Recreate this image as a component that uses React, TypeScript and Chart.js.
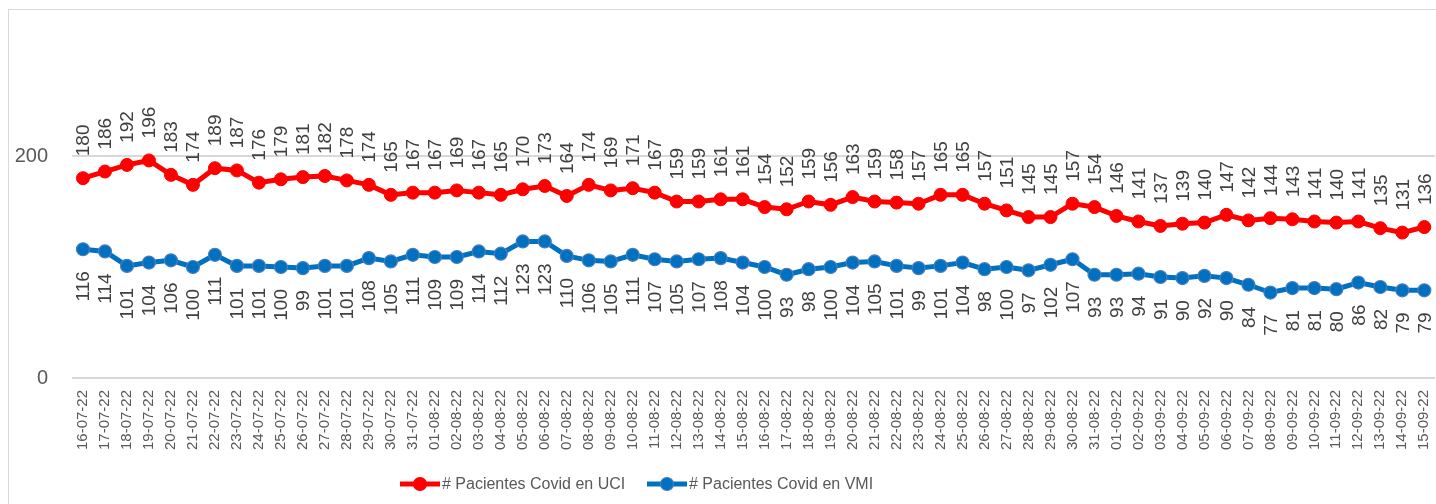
import { useEffect, useRef } from 'react';
import { Chart, registerables } from 'chart.js';

Chart.register(...registerables);

const dates = [
  '16-07-22', '17-07-22', '18-07-22', '19-07-22', '20-07-22', '21-07-22', '22-07-22', '23-07-22',
  '24-07-22', '25-07-22', '26-07-22', '27-07-22', '28-07-22', '29-07-22', '30-07-22', '31-07-22',
  '01-08-22', '02-08-22', '03-08-22', '04-08-22', '05-08-22', '06-08-22', '07-08-22', '08-08-22',
  '09-08-22', '10-08-22', '11-08-22', '12-08-22', '13-08-22', '14-08-22', '15-08-22', '16-08-22',
  '17-08-22', '18-08-22', '19-08-22', '20-08-22', '21-08-22', '22-08-22', '23-08-22', '24-08-22',
  '25-08-22', '26-08-22', '27-08-22', '28-08-22', '29-08-22', '30-08-22', '31-08-22', '01-09-22',
  '02-09-22', '03-09-22', '04-09-22', '05-09-22', '06-09-22', '07-09-22', '08-09-22', '09-09-22',
  '10-09-22', '11-09-22', '12-09-22', '13-09-22', '14-09-22', '15-09-22',
];

const uciValues = [
  180, 186, 192, 196, 183, 174, 189, 187, 176, 179, 181, 182, 178, 174, 165, 167,
  167, 169, 167, 165, 170, 173, 164, 174, 169, 171, 167, 159, 159, 161, 161, 154,
  152, 159, 156, 163, 159, 158, 157, 165, 165, 157, 151, 145, 145, 157, 154, 146,
  141, 137, 139, 140, 147, 142, 144, 143, 141, 140, 141, 135, 131, 136,
];

const vmiValues = [
  116, 114, 101, 104, 106, 100, 111, 101, 101, 100, 99, 101, 101, 108, 105, 111,
  109, 109, 114, 112, 123, 123, 110, 106, 105, 111, 107, 105, 107, 108, 104, 100,
  93, 98, 100, 104, 105, 101, 99, 101, 104, 98, 100, 97, 102, 107, 93, 93,
  94, 91, 90, 92, 90, 84, 77, 81, 81, 80, 86, 82, 79, 79,
];

const yTicks = [0, 200];
const seriesNames = ['# Pacientes Covid en UCI', '# Pacientes Covid en VMI'];
const seriesColors = ['#FF0000', '#0070C0'];
const seriesBorders = ['#FF0000', '#4A7EBB'];

const FONT = '"Liberation Sans", Arial, sans-serif';

const dataLabelPlugin = {
  id: 'dataLabelsRot',
  afterDatasetsDraw(chart: any) {
    const ctx = chart.ctx;
    chart.data.datasets.forEach((ds: any, i: number) => {
      const meta = chart.getDatasetMeta(i);
      meta.data.forEach((pt: any, j: number) => {
        ctx.save();
        ctx.translate(pt.x, pt.y);
        ctx.rotate(-Math.PI / 2);
        ctx.font = `19px ${FONT}`;
        ctx.fillStyle = '#404040';
        ctx.textBaseline = 'middle';
        if (i === 0) {
          ctx.textAlign = 'left';
          ctx.fillText(String(ds.data[j]), 22, 1);
        } else {
          ctx.textAlign = 'right';
          ctx.fillText(String(ds.data[j]), -22, 1);
        }
        ctx.restore();
      });
    });
  },
};

const legendPlugin = {
  id: 'customLegend',
  afterDraw(chart: any) {
    const ctx = chart.ctx;
    const y = 474;
    const starts = [391, 638];
    seriesNames.forEach((name, i) => {
      const x0 = starts[i];
      ctx.save();
      ctx.strokeStyle = seriesColors[i];
      ctx.lineWidth = 5;
      ctx.lineCap = 'butt';
      ctx.beginPath();
      ctx.moveTo(x0, y);
      ctx.lineTo(x0 + 40, y);
      ctx.stroke();
      ctx.beginPath();
      ctx.arc(x0 + 20, y, 6.5, 0, Math.PI * 2);
      ctx.fillStyle = seriesColors[i];
      ctx.fill();
      ctx.lineWidth = 1.2;
      ctx.strokeStyle = seriesBorders[i];
      ctx.stroke();
      ctx.font = `16px ${FONT}`;
      ctx.fillStyle = '#595959';
      ctx.textAlign = 'left';
      ctx.textBaseline = 'middle';
      ctx.fillText(name, x0 + 42, y + 1);
      ctx.restore();
    });
  },
};

export default function App() {
  const ref = useRef<HTMLCanvasElement | null>(null);

  useEffect(() => {
    if (!ref.current) return;
    const chart = new Chart(ref.current, {
      type: 'line',
      data: {
        labels: dates,
        datasets: [
          {
            label: seriesNames[0],
            data: uciValues,
            borderColor: seriesColors[0],
            backgroundColor: seriesColors[0],
            pointBackgroundColor: seriesColors[0],
            pointBorderColor: seriesBorders[0],
            pointBorderWidth: 1,
            borderWidth: 5,
            pointRadius: 6.5,
            tension: 0,
          },
          {
            label: seriesNames[1],
            data: vmiValues,
            borderColor: seriesColors[1],
            backgroundColor: seriesColors[1],
            pointBackgroundColor: seriesColors[1],
            pointBorderColor: seriesBorders[1],
            pointBorderWidth: 1.2,
            borderWidth: 5,
            pointRadius: 6.5,
            tension: 0,
          },
        ],
      },
      options: {
        animation: false,
        responsive: false,
        devicePixelRatio: 1,
        layout: { padding: { top: 35, right: 3, bottom: 0, left: 0 } },
        plugins: {
          legend: { display: false },
          tooltip: { enabled: false },
        },
        scales: {
          x: {
            offset: true,
            grid: { display: false, drawTicks: false },
            border: { display: false },
            ticks: {
              autoSkip: false,
              minRotation: 90,
              maxRotation: 90,
              padding: 12,
              color: '#595959',
              font: { size: 15, family: FONT },
            },
            afterFit(scale: any) {
              scale.height = 126;
              scale.paddingLeft = 0;
              scale.paddingRight = 0;
            },
          },
          y: {
            min: 0,
            max: 300,
            grid: { color: '#D9D9D9', lineWidth: 2, drawTicks: false },
            border: { display: false },
            ticks: {
              padding: 24,
              color: '#595959',
              font: { size: 20, family: FONT },
            },
            afterBuildTicks(scale: any) {
              scale.ticks = yTicks.map((v) => ({ value: v }));
            },
            afterFit(scale: any) {
              scale.width = 63;
              scale.paddingTop = 0;
              scale.paddingBottom = 0;
            },
          },
        },
      },
      plugins: [dataLabelPlugin, legendPlugin],
    });
    return () => chart.destroy();
  }, []);

  return (
    <div
      style={{
        position: 'fixed',
        left: 8,
        top: 9,
        width: 1444,
        height: 496,
        border: '1px solid #D9D9D9',
        background: '#fff',
      }}
    >
      <canvas ref={ref} width={1434} height={494} style={{ display: 'block' }} />
    </div>
  );
}
